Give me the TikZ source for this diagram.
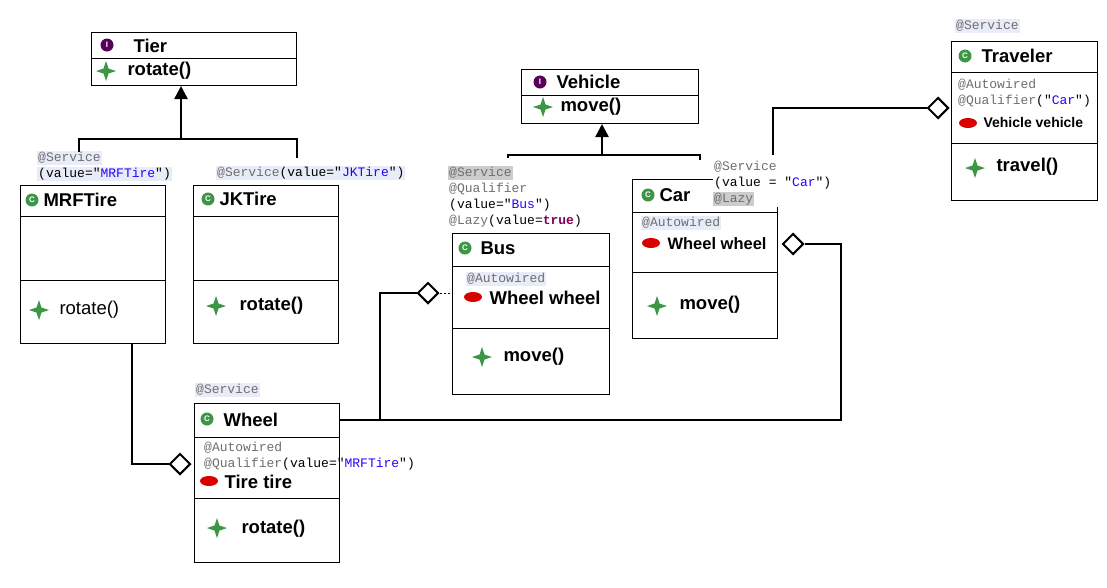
\documentclass[tikz,border=0pt]{standalone}
\usepackage{fontspec}
\setmainfont{Liberation Sans}
\newfontfamily\annf{Liberation Mono}
\usetikzlibrary{arrows.meta,shapes.geometric}
\definecolor{anngray}{RGB}{110,110,110}
\definecolor{strblue}{RGB}{42,0,255}
\definecolor{kwpurple}{RGB}{127,0,85}
\definecolor{annbg}{RGB}{232,236,248}
\definecolor{ggreen}{RGB}{60,150,70}
\begin{document}
\begin{tikzpicture}[x=1pt,y=-1pt,
  box/.style={draw,line width=0.8pt},
  cls/.style={anchor=west,font=\bfseries\fontsize{18.5}{20}\selectfont},
  mem/.style={anchor=west,font=\bfseries\fontsize{18.5}{20}\selectfont},
  ann/.style={anchor=west,font=\annf\fontsize{13}{14}\selectfont,text=anngray,inner sep=1pt},
  conn/.style={line width=2.5pt},
  dia/.style={draw,fill=white,line width=2pt,diamond,minimum width=21pt,minimum height=21pt,inner sep=0pt},
  inh/.style={-{Triangle[length=13pt,width=13pt]}}]
\useasboundingbox (0,0) rectangle (1107,587);
\newcommand\ico[3]{\fill[#3] (#1,#2) circle (6.5);\node[text=white,font=\bfseries\fontsize{8}{8}\selectfont,inner sep=0] at (#1,#2) {C};}
\newcommand\iicon[2]{\fill[violet!70!black] (#1,#2) circle (6.5);\node[text=white,font=\bfseries\fontsize{8}{8}\selectfont,inner sep=0] at (#1,#2) {I};}
\newcommand\plusic{}
\renewcommand\plusic[2]{\fill[ggreen] (#1,#2) +(-10,0) -- +(-2.5,-2.5) -- +(0,-10) -- +(2.5,-2.5) -- +(10,0) -- +(2.5,2.5) -- +(0,10) -- +(-2.5,2.5) -- cycle;}
\newcommand\fieldic[2]{\fill[red!85!black] (#1,#2) ellipse (9 and 5);}
% Tier
\draw[box] (91,32) rectangle (296,85); \draw[box] (91,58) -- (296,58);
\iicon{107}{45}\node[cls] at (130,46) {Tier};
\plusic{106}{71}\node[mem] at (124,71) {rotate()};
% MRFTire
\draw[box] (20,185) rectangle (165,343); \draw[box] (20,216)--(165,216) (20,280)--(165,280);
\ico{32}{200}{ggreen}\node[cls] at (40,200) {MRFTire};
\plusic{39}{310}\node[anchor=west,font=\fontsize{18.5}{20}\selectfont] at (56,310) {rotate()};
\node[ann,fill=annbg] at (37,158) {@Service};
\node[ann,fill=annbg] at (37,174) {\textcolor{black}{(value="}\textcolor{strblue}{MRFTire}\textcolor{black}{")}};
% JKTire
\draw[box] (193,185) rectangle (338,343); \draw[box] (193,216)--(338,216) (193,280)--(338,280);
\ico{208}{199}{ggreen}\node[cls] at (216,199) {JKTire};
\plusic{216}{306}\node[mem] at (236,306) {rotate()};
\node[ann,fill=annbg] at (216,173) {@Service\textcolor{black}{(value="}\textcolor{strblue}{JKTire}\textcolor{black}{")}};
% Vehicle
\draw[box] (521,69) rectangle (698,123); \draw[box] (521,95)--(698,95);
\iicon{540}{82}\node[cls] at (553,82) {Vehicle};
\plusic{543}{107}\node[mem] at (557,107) {move()};
% Bus
\draw[box] (452,233) rectangle (609,394); \draw[box] (452,266)--(609,266) (452,328)--(609,328);
\ico{465}{248}{ggreen}\node[cls] at (477,248) {Bus};
\node[ann,fill=annbg] at (466,279) {@Autowired};
\fieldic{473}{297}\node[mem] at (486,298) {Wheel wheel};
\plusic{482}{357}\node[mem] at (500,357) {move()};
\node[ann,fill=black!20] at (448,173) {@Service};
\node[ann] at (448,189) {@Qualifier};
\node[ann,text=black] at (448,205) {(value="\textcolor{strblue}{Bus}")};
\node[ann] at (448,221) {@Lazy\textcolor{black}{(value=\textcolor{kwpurple}{\bfseries true})}};
% Car
\draw[box] (632,179) rectangle (777,338); \draw[box] (632,212)--(777,212) (632,272)--(777,272);
\fill[white] (713,156) rectangle (800,207);
\draw[box] (777,207) -- (777,212);
\ico{648}{195}{ggreen}\node[cls] at (656,195) {Car};
\node[ann,fill=annbg] at (641,223) {@Autowired};
\fieldic{651}{243}\node[anchor=west,font=\bfseries\fontsize{16.5}{18}\selectfont] at (664,244) {Wheel wheel};
\plusic{657}{306}\node[mem] at (676,305) {move()};
\node[ann] at (713,167) {@Service};
\node[ann,text=black] at (713,183) {(value = "\textcolor{strblue}{Car}")};
\node[ann,fill=black!20] at (713,199) {@Lazy};
% Traveler
\draw[box] (951,41) rectangle (1097,200); \draw[box] (951,72)--(1097,72) (951,143)--(1097,143);
\ico{965}{56}{ggreen}\node[cls] at (978,56) {Traveler};
\node[ann,fill=annbg] at (955,26) {@Service};
\node[ann] at (957,85) {@Autowired};
\node[ann] at (957,101) {@Qualifier\textcolor{black}{("\textcolor{strblue}{Car}")}};
\fieldic{968}{123}\node[anchor=west,font=\bfseries\fontsize{14}{16}\selectfont] at (980,122) {Vehicle vehicle};
\plusic{975}{168}\node[mem] at (993,167) {travel()};
% Wheel
\draw[box] (194,403) rectangle (339,562); \draw[box] (194,437)--(339,437) (194,498)--(339,498);
\ico{207}{419}{ggreen}\node[cls] at (220,420) {Wheel};
\node[ann,fill=annbg] at (195,390) {@Service};
\node[ann] at (203,448) {@Autowired};
\node[ann] at (203,464) {@Qualifier\textcolor{black}{(value="\textcolor{strblue}{MRFTire}")}};
\fieldic{209}{481}\node[mem] at (221,482) {Tire tire};
\plusic{217}{528}\node[mem] at (238,529) {rotate()};
% connectors
\coordinate (tj) at (181,139);
\coordinate (tt) at (181,86);
\draw[conn] (79,152) -- (79,139) -- (297,139) -- (297,158);
\draw[conn,inh] (tj) -- (tt);
\coordinate (vj) at (602,155);
\coordinate (vt) at (602,124);
\draw[line width=2pt] (508,158) -- (508,155) -- (700,155) -- (700,160);
\draw[conn,inh] (vj) -- (vt);
\node[dia] (d1) at (180,464) {};
\draw[conn] (132,343) -- (132,464) -- (d1.west);
\node[dia] (d2) at (428,293) {};
\draw[conn] (339,420) -- (380,420) -- (380,293) -- (d2.west);
\draw[line width=1pt,dash pattern=on 2pt off 2pt] (d2.east) -- (452,293);
\node[dia] (d3) at (793,244) {};
\draw[conn] (380,420) -- (841,420) -- (841,244) -- (d3.east);
\node[dia] (d4) at (938,108) {};
\draw[conn] (773,155) -- (773,108) -- (d4.west);
\end{tikzpicture}
\end{document}
